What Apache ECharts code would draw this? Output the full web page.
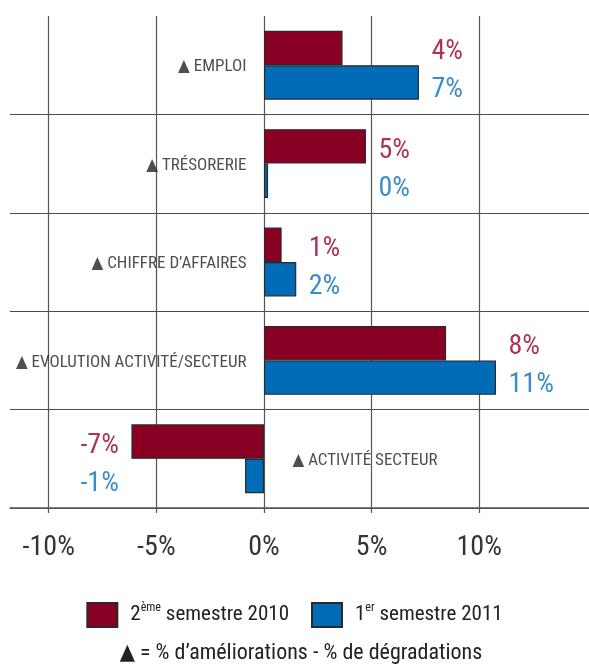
<!DOCTYPE html>
<html>
<head>
<meta charset="utf-8">
<script src="https://cdn.jsdelivr.net/npm/echarts@6/dist/echarts.min.js"></script>
<style>
html,body{margin:0;padding:0;background:#fff;}
#chart{width:589px;height:666px;}
</style>
</head>
<body>
<div id="chart"></div>
<script>
// ---- data ----
const categories = ['▲ EMPLOI', '▲ TRÉSORERIE', '▲ CHIFFRE D’AFFAIRES', '▲ EVOLUTION ACTIVITÉ/SECTEUR', '▲ ACTIVITÉ SECTEUR'];
const seriesNames = ['2ème semestre 2010', '1er semestre 2011'];
const sem2010 = [3.65, 4.74, 0.82, 8.46, -6.16];   // bar lengths (%)
const sem2011 = [7.2, 0.19, 1.5, 10.78, -0.88];
const printed2010 = [4, 5, 1, 8, -7];              // value labels printed on chart (%)
const printed2011 = [7, 0, 2, 11, -1];
const xTicks = [-10, -5, 0, 5, 10];
const footnote = '▲ = % d’améliorations - % de dégradations';

// ---- styles ----
const FONT = "'Roboto Condensed', 'DejaVu Sans Condensed', sans-serif";
const RED = '#8a0025';
const BLUE = '#006bb6';
const RED_TXT = '#96002c';
const BLUE_TXT = '#0a70b8';
const GRID = '#4a4a4a';

const bothNeg = categories.map((c, i) => sem2010[i] < 0 && sem2011[i] < 0);
const anchor = categories.map((c, i) => bothNeg[i]
  ? Math.min(sem2010[i], sem2011[i])
  : Math.max(sem2010[i], sem2011[i], 0));

function labelSeries(name, printed, color, dy) {
  return {
    name: name,
    type: 'scatter',
    silent: true,
    symbolSize: 1,
    itemStyle: { color: 'rgba(0,0,0,0)' },
    z: 5,
    data: categories.map((c, i) => ({
      value: [anchor[i], i],
      label: { position: bothNeg[i] ? 'left' : 'right' }
    })),
    label: {
      show: true,
      distance: 12,
      offset: [0, dy],
      fontFamily: FONT,
      fontSize: 28,
      color: color,
      formatter: p => printed[p.dataIndex] + '%'
    }
  };
}

// category names written beside the zero line (on the side away from the bars)
const categoryLabelSeries = {
  name: 'categoryLabels',
  type: 'scatter',
  silent: true,
  symbolSize: 1,
  itemStyle: { color: 'rgba(0,0,0,0)' },
  z: 5,
  data: categories.map((c, i) => ({
    value: [0, i],
    label: bothNeg[i] ? { position: 'right', distance: 28 } : { position: 'left', distance: 17 }
  })),
  label: {
    show: true,
    fontFamily: FONT,
    fontSize: 17,
    color: '#222',
    offset: [0, 2],
    formatter: p => categories[p.dataIndex]
  }
};

const chart = echarts.init(document.getElementById('chart'), null, { renderer: 'canvas' });
chart.setOption({
  backgroundColor: '#fff',
  animation: false,
  grid: { left: 10, right: 0, top: 16, bottom: 158, containLabel: false, outerBoundsMode: 'none' },
  xAxis: {
    type: 'value',
    min: -11.8,
    max: 15.1,
    axisLine: { show: true, onZero: false, lineStyle: { color: '#555', width: 1.5 } },
    axisTick: { show: true, customValues: xTicks, length: 5, lineStyle: { color: '#555', width: 1.2 } },
    axisLabel: {
      customValues: xTicks,
      margin: 26,
      fontFamily: FONT,
      fontSize: 28,
      color: '#333',
      formatter: v => v + '%'
    },
    splitLine: { show: true, lineStyle: { color: '#555', width: 1.2 } }
  },
  yAxis: {
    type: 'category',
    inverse: true,
    data: categories,
    axisLine: { show: false },
    axisTick: { show: false },
    axisLabel: { show: false },
    splitLine: {
      show: true,
      lineStyle: { color: ['rgba(0,0,0,0)', GRID, GRID, GRID, GRID, GRID], width: 1.2 }
    }
  },
  legend: {
    data: seriesNames,
    left: 'center',
    top: 597,
    itemWidth: 30,
    itemHeight: 24,
    itemGap: 22,
    icon: 'rect',
    textStyle: {
      fontFamily: FONT,
      fontSize: 21,
      color: '#222',
      padding: [0, 0, 0, 8],
      rich: {
        b: { fontFamily: FONT, fontSize: 21, color: '#222', lineHeight: 26 },
        s: { fontFamily: FONT, fontSize: 12, color: '#222', verticalAlign: 'top', lineHeight: 14 }
      }
    },
    formatter: function (name) {
      const m = name.match(/^(\d)(\S+)(.*)$/);
      return '{b|' + m[1] + '}{s|' + m[2] + '}{b|' + m[3] + '}';
    }
  },
  graphic: [{
    type: 'text',
    x: 301,
    y: 653,
    style: {
      text: footnote,
      fontFamily: FONT,
      fontSize: 22,
      fill: '#222',
      textAlign: 'center',
      textVerticalAlign: 'middle'
    }
  }],
  series: [
    {
      name: seriesNames[0],
      type: 'bar',
      data: sem2010,
      barGap: '0%',
      barCategoryGap: '30%',
      itemStyle: { color: RED, borderColor: '#2a2a2a', borderWidth: 1.2 }
    },
    {
      name: seriesNames[1],
      type: 'bar',
      data: sem2011,
      barGap: '0%',
      barCategoryGap: '30%',
      itemStyle: { color: BLUE, borderColor: '#2a2a2a', borderWidth: 1.2 }
    },
    labelSeries('lbl2010', printed2010, RED_TXT, -13),
    labelSeries('lbl2011', printed2011, BLUE_TXT, 25),
    categoryLabelSeries
  ]
});
</script>
</body>
</html>
